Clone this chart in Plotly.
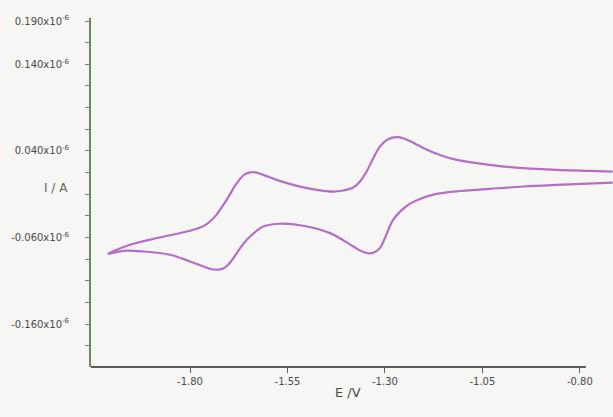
import plotly.graph_objects as go

# Cyclic voltammogram: two successive one-electron couples
# Forward sweep (upper branch), from -0.72 V towards -2.01 V
e_upper = [-0.716, -0.774, -0.860, -0.945, -1.031, -1.116, -1.159, -1.202, -1.219, -1.236,
           -1.266, -1.292, -1.313, -1.330, -1.347, -1.364, -1.381, -1.407, -1.433,
           -1.475, -1.526, -1.578, -1.612, -1.638, -1.659, -1.680, -1.706, -1.732,
           -1.744, -1.757, -1.774, -1.800, -1.885, -1.954, -2.010]
i_upper = [0.0162, 0.0170, 0.0181, 0.0201, 0.0239, 0.0297, 0.0354, 0.0435, 0.0475, 0.0515,
           0.0559, 0.0536, 0.0450, 0.0316, 0.0162, 0.0047, -0.0023, -0.0057, -0.0069,
           -0.0049, -0.0003, 0.0066, 0.0124, 0.0155, 0.0132, 0.0028, -0.0165, -0.0335,
           -0.0395, -0.0445, -0.0485, -0.0522, -0.0606, -0.0684, -0.0787]

# Return sweep (lower branch), from -2.01 V back to -0.72 V
e_lower = [-1.971, -1.920, -1.851, -1.800, -1.749, -1.732, -1.715, -1.697, -1.680,
           -1.663, -1.646, -1.612, -1.569, -1.510, -1.441, -1.381, -1.364, -1.347,
           -1.330, -1.313, -1.300, -1.279, -1.244, -1.202, -1.167, -1.116, -1.031,
           -0.945, -0.860, -0.716]
i_lower = [-0.0753, -0.0761, -0.0799, -0.0876, -0.0960, -0.0972, -0.0957, -0.0888, -0.0779,
           -0.0672, -0.0588, -0.0473, -0.0441, -0.0464, -0.0549, -0.0703, -0.0749, -0.0779,
           -0.0776, -0.0722, -0.0606, -0.0395, -0.0234, -0.0140, -0.0095, -0.0066, -0.0038,
           -0.0011, 0.0008, 0.0035]

# Axis ticks
x_tick_vals = [-1.80, -1.55, -1.30, -1.05, -0.80]
x_tick_text = ["-1.80", "-1.55", "-1.30", "-1.05", "-0.80"]

y_tick_vals = [0.190, 0.140, 0.040, -0.060, -0.160]
y_tick_text = ["0.190x10<sup>-6</sup>", "0.140x10<sup>-6</sup>", "0.040x10<sup>-6</sup>",
               "-0.060x10<sup>-6</sup>", "-0.160x10<sup>-6</sup>"]

bg = "#f6f6f4"
curve_color = "#b46ec8"
y_axis_color = "#6b8a5e"
x_axis_color = "#5c5c5c"
label_color = "#4a4a4a"

fig = go.Figure()
fig.add_trace(go.Scatter(
    x=e_upper + e_lower,
    y=i_upper + i_lower,
    mode="lines",
    line=dict(color=curve_color, width=2.2, shape="spline", smoothing=1.0),
    hoverinfo="skip",
    showlegend=False,
))

fig.update_layout(
    width=613, height=417,
    margin=dict(l=91, r=0, t=18, b=50),
    paper_bgcolor=bg, plot_bgcolor=bg,
    font=dict(family="DejaVu Sans", size=10, color=label_color),
    xaxis=dict(
        range=[-2.054, -0.715],
        tickvals=x_tick_vals, ticktext=x_tick_text,
        ticks="outside", ticklen=5, tickcolor=x_axis_color, tickwidth=1,
        showline=False, showgrid=False, zeroline=False,
        tickfont=dict(family="DejaVu Sans", size=10, color=label_color),
    ),
    yaxis=dict(
        range=[-0.2095, 0.1935],
        tickvals=y_tick_vals, ticktext=y_tick_text,
        ticks="outside", ticklen=4, tickcolor=y_axis_color, tickwidth=1,
        minor=dict(tick0=0.19, dtick=0.025, ticks="outside", ticklen=4,
                   tickcolor=y_axis_color, tickwidth=1, showgrid=False),
        showline=True, linecolor=y_axis_color, linewidth=2,
        showgrid=False, zeroline=False,
        ticklabelstandoff=14,
        tickfont=dict(family="DejaVu Sans", size=10, color=label_color),
    ),
    shapes=[dict(
        type="line", xref="paper", yref="paper",
        x0=0, x1=0.948, y0=0, y1=0,
        line=dict(color=x_axis_color, width=2),
    )],
    annotations=[
        dict(text="I / A", xref="paper", yref="paper", x=-0.094, y=0.513,
             showarrow=False, font=dict(family="DejaVu Sans", size=12, color="#5a6a56")),
        dict(text="E /V", xref="paper", yref="paper", x=0.492, y=-0.100,
             showarrow=False, font=dict(family="DejaVu Sans", size=13, color=label_color)),
    ],
)

fig.write_html("out.html")
